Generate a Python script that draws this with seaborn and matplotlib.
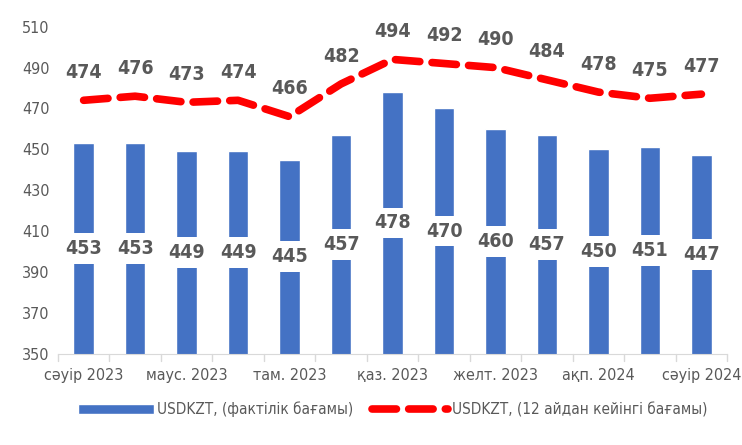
import pandas as pd
import seaborn as sns
import matplotlib.pyplot as plt
import numpy as np

months = ["сәуір 2023", "мамыр 2023", "маус. 2023", "шілде 2023", "там. 2023",
          "қырк. 2023", "қаз. 2023", "қар. 2023", "желт. 2023", "қаң. 2024",
          "ақп. 2024", "нау. 2024", "сәуір 2024"]
actual = [453, 453, 449, 449, 445, 457, 478, 470, 460, 457, 450, 451, 447]
expected = [474, 476, 473, 474, 466, 482, 494, 492, 490, 484, 478, 475, 477]

bar_label = "USDKZT, (фактілік бағамы)"
line_label = "USDKZT, (12 айдан кейінгі бағамы)"

sns.set_style("white")
plt.rcParams["font.family"] = ["DejaVu Sans"]
plt.rcParams["font.stretch"] = "condensed"

df = pd.DataFrame({"month": months, "actual": actual, "expected": expected})
df["pos"] = np.arange(len(months))

fig, ax = plt.subplots(figsize=(7.42, 4.45), dpi=100)
fig.subplots_adjust(left=0.078, right=0.98, top=0.94, bottom=0.205)

sns.barplot(data=df, x="month", y="actual", color="#4472C4", width=0.4,
            saturation=1, ax=ax, label=bar_label)
ax.plot(df["pos"], df["expected"], color="#FF0000", lw=5.5,
        dashes=(3.2, 1.6), dash_capstyle="round", label=line_label)

gray = "#595959"
for i, v in enumerate(actual):
    ax.text(i, 350 + (v - 350) / 2, str(v), ha="center", va="center",
            fontsize=14, fontweight="bold", color=gray,
            bbox=dict(boxstyle="square,pad=0.3", fc="white", ec="none"))
for i, v in enumerate(expected):
    ax.text(i, v + 9, str(v), ha="center", va="bottom", fontsize=14,
            fontweight="bold", color=gray)

ax.set_ylim(350, 510)
ax.set_yticks(np.arange(350, 511, 20))
ax.set_xlim(-0.5, len(months) - 0.5)
ax.set_xticks(np.arange(0, len(months), 2))
ax.set_xticklabels(months[::2])
ax.set_xlabel("")
ax.set_ylabel("")
ax.tick_params(axis="both", labelsize=11.5, colors=gray, length=0, pad=10)
ax.tick_params(axis="y", pad=6)

for s in ["top", "right", "left"]:
    ax.spines[s].set_visible(False)
ax.spines["bottom"].set_color("#D9D9D9")
for b in np.arange(-0.5, len(months), 1):
    ax.plot([b, b], [350, 346.5], color="#D9D9D9", lw=1, clip_on=False)

handles, labels = ax.get_legend_handles_labels()
order = [labels.index(bar_label), labels.index(line_label)]
ax.legend([handles[k] for k in order], [labels[k] for k in order],
          loc="center", bbox_to_anchor=(0.5, -0.17), ncol=2,
          frameon=False, fontsize=11, labelcolor=gray, handlelength=5,
          handleheight=0.6, columnspacing=1.2, handletextpad=0.2)

fig.savefig("out.png", dpi=100)
